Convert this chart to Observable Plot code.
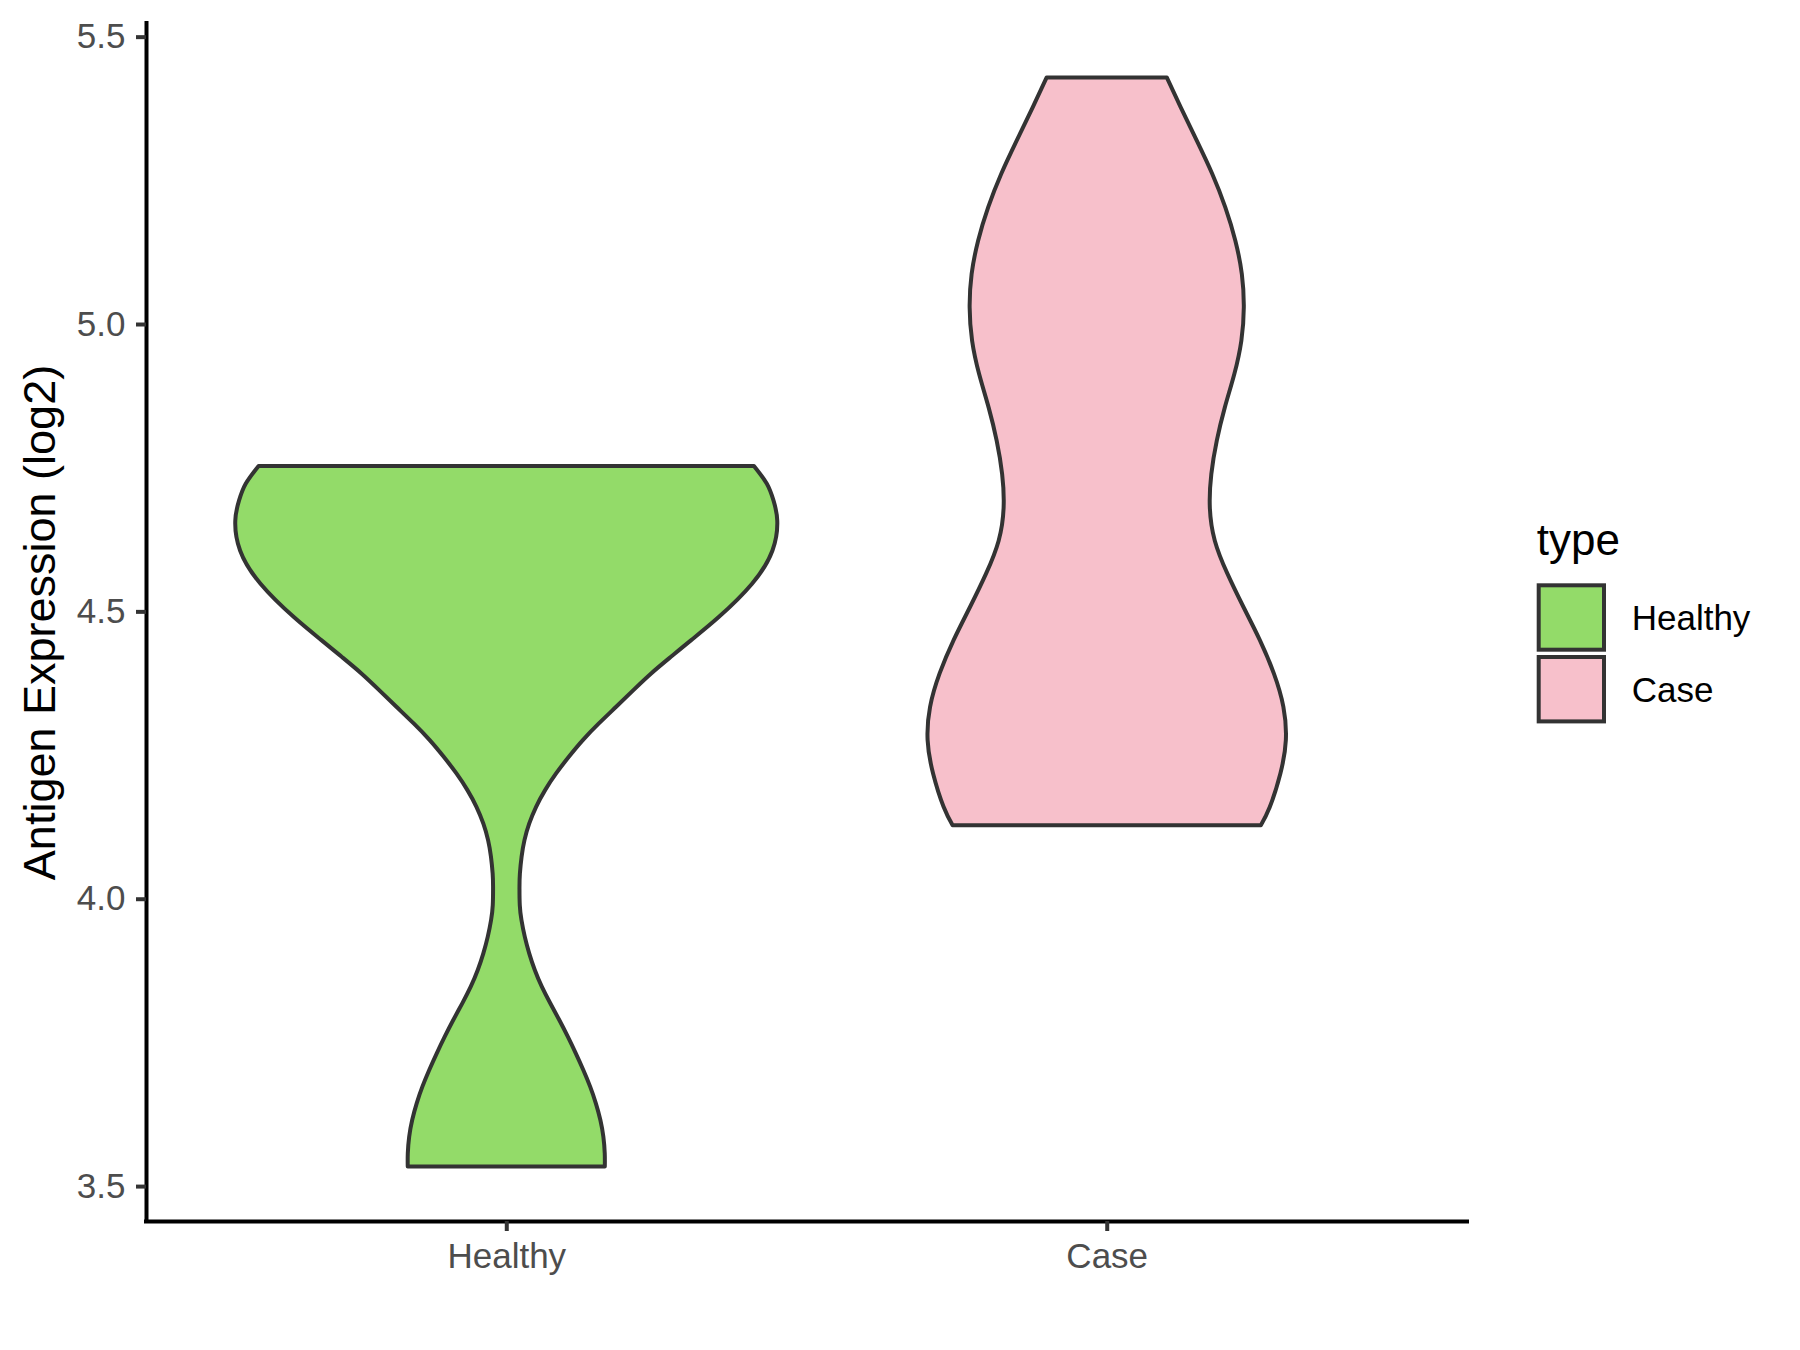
<!DOCTYPE html>
<html>
<head>
<meta charset="utf-8">
<script src="https://cdn.jsdelivr.net/npm/d3@7"></script>
<script src="https://cdn.jsdelivr.net/npm/@observablehq/plot@0.6"></script>
<style>
  body { margin: 0; background: #ffffff; }
  #wrap { position: relative; width: 1800px; height: 1350px; font-family: "Liberation Sans", Arial, sans-serif; }
  #legend { position: absolute; left: 1500px; top: 480px; }
</style>
</head>
<body>
<div id="wrap"></div>
<script>
// ---- data ----
const categories = ["Healthy", "Case"];
const palette = ["#93DB69", "#F7C0CB"];
const yTicks = [3.5, 4.0, 4.5, 5.0, 5.5];
const yLabel = "Antigen Expression (log2)";
const legendTitle = "type";

// violin profiles: value (log2) and half-width (in category units)
const healthyValues = [3.534, 3.557, 3.586, 3.615, 3.644, 3.673, 3.702, 3.731, 3.760, 3.789, 3.818, 3.847, 3.876, 3.905, 3.934, 3.963, 3.989, 4.021, 4.044, 4.073, 4.102, 4.131, 4.160, 4.189, 4.218, 4.247, 4.276, 4.305, 4.334, 4.363, 4.392, 4.421, 4.450, 4.490, 4.548, 4.606, 4.658, 4.693, 4.722, 4.753];
const healthyHalfWidths = [0.1641, 0.1640, 0.1617, 0.1567, 0.1492, 0.1397, 0.1283, 0.1158, 0.1025, 0.0883, 0.0733, 0.0592, 0.0475, 0.0382, 0.0308, 0.0253, 0.0225, 0.0220, 0.0227, 0.0255, 0.0303, 0.0383, 0.0497, 0.0647, 0.0830, 0.1042, 0.1275, 0.1542, 0.1830, 0.2117, 0.2413, 0.2742, 0.3080, 0.3538, 0.4093, 0.4433, 0.4513, 0.4450, 0.4340, 0.4125];

const caseValues = [4.128, 4.160, 4.218, 4.276, 4.334, 4.392, 4.450, 4.508, 4.566, 4.623, 4.681, 4.739, 4.797, 4.855, 4.913, 4.971, 5.029, 5.087, 5.145, 5.203, 5.261, 5.319, 5.377, 5.429];
const caseHalfWidths = [0.2567, 0.2717, 0.2892, 0.2983, 0.2942, 0.2783, 0.2550, 0.2275, 0.2008, 0.1800, 0.1717, 0.1742, 0.1833, 0.1967, 0.2125, 0.2242, 0.2283, 0.2250, 0.2142, 0.1975, 0.1758, 0.1500, 0.1233, 0.1000];

// ---- build table ----
const profiles = [
  {type: "Healthy", values: healthyValues, widths: healthyHalfWidths},
  {type: "Case", values: caseValues, widths: caseHalfWidths}
];
const rows = profiles.flatMap(p => p.values.map((v, i) => ({
  type: p.type,
  pos: categories.indexOf(p.type) + 1,
  v,
  hw: p.widths[i]
})));

const [vmin, vmax] = d3.extent(rows, d => d.v);
const pad = (vmax - vmin) * 0.05;
const yDomain = [vmin - pad, vmax + pad];
const xDomain = [0.4, categories.length + 0.6];

const FONT = '"Liberation Sans", Arial, sans-serif';

const chart = Plot.plot({
  width: 1800,
  height: 1350,
  marginLeft: 146,
  marginRight: 333,
  marginTop: 23,
  marginBottom: 129,
  style: {fontFamily: FONT, background: "#ffffff", overflow: "visible"},
  x: {domain: xDomain, axis: null},
  y: {domain: yDomain, axis: null},
  color: {domain: categories, range: palette},
  marks: [
    Plot.areaX(rows, {
      y: "v",
      x1: d => d.pos - d.hw,
      x2: d => d.pos + d.hw,
      z: "type",
      fill: "type",
      stroke: "#333333",
      strokeWidth: 4,
      curve: "natural"
    }),
    Plot.ruleX([xDomain[0]], {stroke: "#000000", strokeWidth: 4, strokeLinecap: "square"}),
    Plot.ruleY([yDomain[0]], {stroke: "#000000", strokeWidth: 4, strokeLinecap: "square"}),
    Plot.axisY({
      ticks: yTicks,
      tickFormat: d3.format(".1f"),
      tickSize: 10,
      tickPadding: 11,
      fontSize: 35,
      stroke: "#333333",
      fill: "#4D4D4D",
      strokeWidth: 4,
      label: null
    }),
    Plot.axisX({
      ticks: categories.map((c, i) => i + 1),
      tickFormat: d => categories[d - 1],
      tickSize: 10,
      tickPadding: 12,
      fontSize: 35,
      stroke: "#333333",
      fill: "#4D4D4D",
      strokeWidth: 4,
      label: null
    }),
    Plot.text([yLabel], {
      text: d => d,
      frameAnchor: "left",
      textAnchor: "middle",
      rotate: -90,
      dx: -106,
      fontSize: 45,
      fill: "#000000"
    })
  ]
});

const wrap = document.getElementById("wrap");
wrap.appendChild(chart);

// ---- legend (ggplot style, to the right of the panel) ----
const legend = d3.create("svg")
  .attr("id", "legend")
  .attr("width", 300)
  .attr("height", 280)
  .style("font-family", FONT);

legend.append("text")
  .attr("x", 36.7)
  .attr("y", 75)
  .attr("font-size", 44)
  .attr("fill", "#000000")
  .text(legendTitle);

categories.forEach((c, i) => {
  const top = 105.3 + i * 71.7;
  legend.append("rect")
    .attr("x", 38.7)
    .attr("y", top)
    .attr("width", 65.3)
    .attr("height", 64.4)
    .attr("fill", palette[i])
    .attr("stroke", "#333333")
    .attr("stroke-width", 4);
  legend.append("text")
    .attr("x", 131.7)
    .attr("y", top + 44.7)
    .attr("font-size", 35)
    .attr("fill", "#000000")
    .text(c);
});

wrap.appendChild(legend.node());
</script>
</body>
</html>
